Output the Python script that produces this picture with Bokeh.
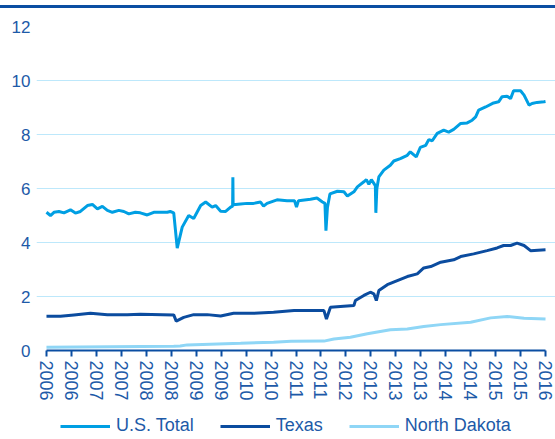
from bokeh.plotting import figure
from bokeh.models import FixedTicker, Legend, LegendItem, Range1d
from bokeh.embed import file_html
from bokeh.resources import INLINE

# ---- data (decimal years) ----
us_t = [2006.00, 2006.08, 2006.15, 2006.25, 2006.35, 2006.48, 2006.58, 2006.68, 2006.82, 2006.92,
        2007.02, 2007.12, 2007.22, 2007.32, 2007.45, 2007.55, 2007.65, 2007.78, 2007.88, 2008.02,
        2008.15, 2008.28, 2008.42, 2008.48, 2008.55, 2008.62, 2008.72, 2008.85, 2008.95, 2009.09,
        2009.19, 2009.32, 2009.39, 2009.49, 2009.59, 2009.69, 2009.73, 2009.735, 2009.74, 2009.89,
        2010.02, 2010.15, 2010.29, 2010.35, 2010.42, 2010.62, 2010.82, 2010.97, 2011.01, 2011.05,
        2011.29, 2011.42, 2011.53, 2011.58, 2011.60, 2011.63, 2011.68, 2011.83, 2011.96, 2012.03,
        2012.16, 2012.23, 2012.36, 2012.41, 2012.46, 2012.51, 2012.56, 2012.59, 2012.60, 2012.62,
        2012.66, 2012.76, 2012.89, 2012.96, 2013.09, 2013.23, 2013.29, 2013.41, 2013.49, 2013.60,
        2013.66, 2013.73, 2013.83, 2013.96, 2014.06, 2014.16, 2014.30, 2014.43, 2014.53, 2014.60,
        2014.66, 2014.80, 2014.96, 2015.06, 2015.13, 2015.23, 2015.30, 2015.36, 2015.50, 2015.57,
        2015.67, 2015.73, 2015.83, 2015.97, 2016.00]
us_v = [5.12, 5.00, 5.12, 5.15, 5.10, 5.21, 5.09, 5.15, 5.37, 5.41,
        5.25, 5.34, 5.19, 5.12, 5.19, 5.15, 5.06, 5.12, 5.10, 5.02,
        5.12, 5.12, 5.12, 5.15, 5.10, 3.79, 4.57, 5.00, 4.89, 5.37,
        5.50, 5.31, 5.37, 5.16, 5.15, 5.31, 5.35, 6.42, 5.40, 5.43,
        5.45, 5.45, 5.50, 5.35, 5.45, 5.58, 5.55, 5.55, 5.31, 5.55,
        5.60, 5.65, 5.50, 5.45, 4.44, 5.30, 5.80, 5.90, 5.88, 5.72,
        5.88, 6.06, 6.25, 6.33, 6.16, 6.33, 6.19, 6.10, 5.10, 6.00,
        6.43, 6.68, 6.86, 7.02, 7.11, 7.23, 7.36, 7.17, 7.52, 7.60,
        7.81, 7.77, 8.04, 8.16, 8.09, 8.19, 8.41, 8.43, 8.53, 8.65,
        8.90, 9.02, 9.17, 9.21, 9.40, 9.42, 9.33, 9.62, 9.62, 9.46,
        9.09, 9.15, 9.19, 9.21, 9.22]

tx_t = [2006.00, 2006.28, 2006.55, 2006.88, 2007.22, 2007.62, 2007.88, 2008.55, 2008.60, 2008.75,
        2008.95, 2009.22, 2009.49, 2009.75, 2010.15, 2010.55, 2010.96, 2011.56, 2011.61, 2011.69,
        2011.89, 2012.16, 2012.19, 2012.36, 2012.49, 2012.56, 2012.61, 2012.66, 2012.83, 2013.03,
        2013.23, 2013.43, 2013.56, 2013.70, 2013.90, 2014.16, 2014.30, 2014.56, 2014.83, 2015.03,
        2015.16, 2015.30, 2015.43, 2015.57, 2015.70, 2016.00]
tx_v = [1.27, 1.27, 1.32, 1.38, 1.33, 1.33, 1.34, 1.32, 1.09, 1.23,
        1.33, 1.33, 1.28, 1.38, 1.38, 1.42, 1.48, 1.48, 1.17, 1.60,
        1.63, 1.67, 1.85, 2.04, 2.16, 2.10, 1.85, 2.22, 2.44, 2.59,
        2.74, 2.84, 3.06, 3.11, 3.27, 3.36, 3.48, 3.58, 3.70, 3.80,
        3.89, 3.89, 3.98, 3.89, 3.70, 3.73]

nd_t = [2006.00, 2008.55, 2008.68, 2008.82, 2009.89, 2010.55, 2010.90, 2011.56, 2011.76, 2012.09,
        2012.43, 2012.89, 2013.23, 2013.56, 2013.90, 2014.50, 2014.90, 2015.23, 2015.57, 2016.00]
nd_v = [0.12, 0.16, 0.17, 0.21, 0.27, 0.31, 0.34, 0.35, 0.43, 0.49,
        0.62, 0.77, 0.80, 0.89, 0.96, 1.05, 1.21, 1.26, 1.20, 1.17]

x_ticks = [2006.0, 2006.5, 2007.0, 2007.5, 2008.0, 2008.5, 2009.0, 2009.5, 2010.0, 2010.5,
           2011.0, 2011.5, 2012.0, 2012.5, 2013.0, 2013.5, 2014.0, 2014.5, 2015.0, 2015.5, 2016.0]
x_labels = ["2006", "2006", "2007", "2007", "2008", "2008", "2009", "2009", "2010", "2010",
            "2011", "2011", "2012", "2012", "2013", "2013", "2014", "2014", "2015", "2015", "2016"]
y_ticks = [0, 2, 4, 6, 8, 10, 12]
grid_ticks = [2, 4, 6, 8, 10, 12]

series_names = ["U.S. Total", "Texas", "North Dakota"]
colors = ["#009fe3", "#0b4c9f", "#8fd6f6"]

TEXT = "#1d5aa8"
DARK = "#0b4ea2"
FONT = "Liberation Sans"
Y_BOTTOM = -3.22   # room below zero for the axis labels and legend
X_PAD = 0.2        # room left/right so the end tick labels are not clipped

p = figure(frame_width=519, frame_height=411, output_backend="svg", toolbar_location=None,
           x_range=Range1d(2006 - X_PAD, 2016 + X_PAD), y_range=Range1d(Y_BOTTOM, 12),
           min_border_left=36, min_border_right=0, min_border_top=18, min_border_bottom=0,
           styles={"border-top": "3px solid " + DARK, "margin-top": "5px"})
p.outline_line_color = None
p.background_fill_color = "white"

r_us = p.line(us_t, us_v, line_color=colors[0], line_width=3)
r_tx = p.line(tx_t, tx_v, line_color=colors[1], line_width=3)
r_nd = p.line(nd_t, nd_v, line_color=colors[2], line_width=3)

p.xgrid.visible = False
p.ygrid.ticker = FixedTicker(ticks=grid_ticks)
p.ygrid.grid_line_color = "#bde8fb"
p.ygrid.grid_line_width = 1

xa = p.xaxis[0]
xa.fixed_location = 0
xa.bounds = (2006, 2016)
xa.ticker = FixedTicker(ticks=x_ticks)
xa.major_label_overrides = {t: l for t, l in zip(x_ticks, x_labels)}
xa.major_label_orientation = "vertical"
xa.axis_line_color = DARK
xa.axis_line_width = 2
xa.major_tick_line_color = DARK
xa.major_tick_line_width = 2
xa.major_tick_in = 0
xa.major_tick_out = 6
xa.minor_tick_line_color = None
xa.major_label_text_color = TEXT
xa.major_label_text_font = FONT
xa.major_label_text_font_size = "18px"
xa.major_label_standoff = 4

ya = p.yaxis[0]
ya.ticker = FixedTicker(ticks=y_ticks)
ya.axis_line_color = None
ya.major_tick_line_color = None
ya.major_tick_in = 0
ya.major_tick_out = 0
ya.minor_tick_line_color = None
ya.major_label_text_color = TEXT
ya.major_label_text_font = FONT
ya.major_label_text_font_size = "17px"
ya.major_label_text_align = "right"
ya.major_label_standoff = 6

legend = Legend(items=[LegendItem(label=series_names[0], renderers=[r_us]),
                       LegendItem(label=series_names[1], renderers=[r_tx]),
                       LegendItem(label=series_names[2], renderers=[r_nd])],
                orientation="horizontal", location=(24, 1),
                glyph_width=50, glyph_height=18, label_standoff=6, spacing=26,
                label_text_font=FONT, label_text_font_size="18px", label_text_color=TEXT,
                border_line_color=None, background_fill_alpha=0,
                padding=0, margin=0)
p.add_layout(legend)

open("out.html", "w").write(file_html(p, INLINE))
